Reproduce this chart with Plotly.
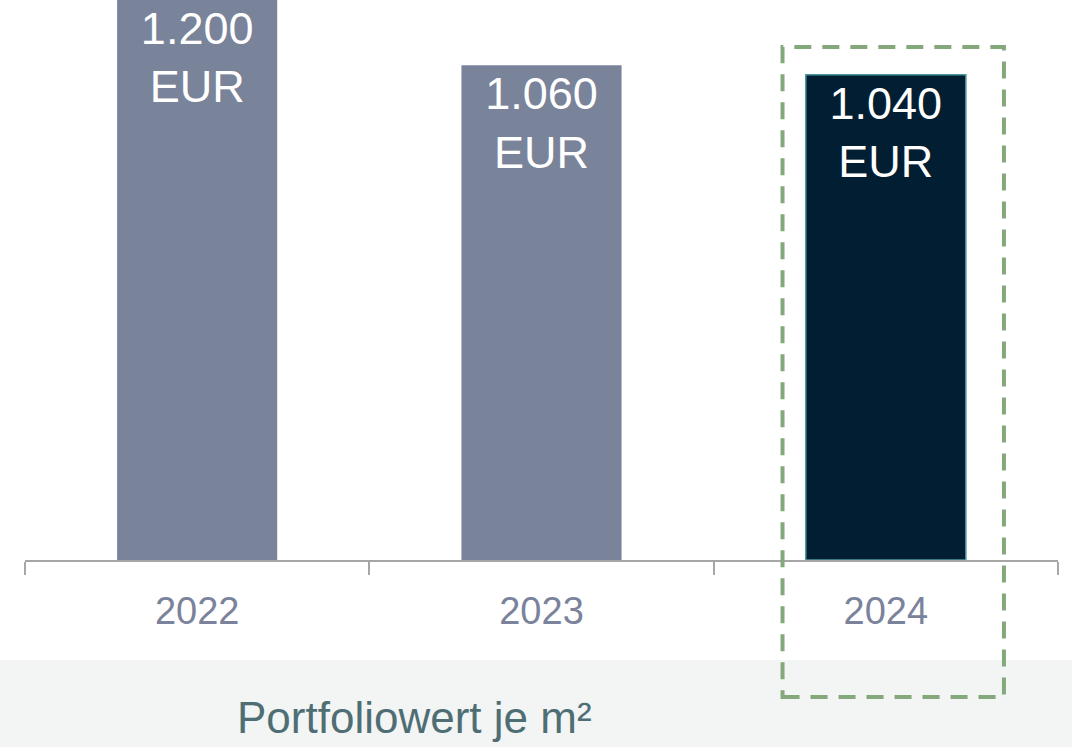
import plotly.graph_objects as go

# ---- data ----
years = ["2022", "2023", "2024"]
values = [1200, 1060, 1040]
value_labels = ["1.200<br>EUR", "1.060<br>EUR", "1.040<br>EUR"]
caption = "Portfoliowert je m²"

bar_colors = ["#79839A", "#79839A", "#021E32"]
bar_line_colors = ["#79839A", "#79839A", "#4E98A0"]
bar_line_widths = [0, 0, 1.5]

FONT = "Liberation Sans Narrow, Arial Narrow, Liberation Sans, Arial, sans-serif"

W, H = 1072, 747
ML, MR, MT, MB = 25, 14, 0, 187
plot_w = W - ML - MR
plot_h = H - MT - MB

fig = go.Figure()
fig.add_trace(go.Bar(
    x=years,
    y=values,
    width=0.465,
    marker=dict(color=bar_colors, line=dict(color=bar_line_colors, width=bar_line_widths)),
    text=value_labels,
    texttemplate="%{text}",
    textposition="inside",
    insidetextanchor="end",
    textangle=0,
    insidetextfont=dict(family=FONT, size=45, color="white"),
    hoverinfo="skip",
))


def px_to_paper_x(px):
    return (px - ML) / plot_w


def px_to_paper_y(py):
    return (H - MB - py) / plot_h


# bottom caption band (full width)
fig.add_shape(type="rect", xref="paper", yref="paper",
              x0=px_to_paper_x(-2), x1=px_to_paper_x(W + 2),
              y0=px_to_paper_y(660), y1=px_to_paper_y(H + 2),
              fillcolor="#F3F5F4", line=dict(width=0), layer="below")

fig.add_annotation(xref="paper", yref="paper",
                   x=px_to_paper_x(414), y=px_to_paper_y(717),
                   text=caption, showarrow=False,
                   font=dict(family=FONT, size=44, color="#4E6E74"),
                   xanchor="center", yanchor="middle")

# dashed highlight box around the last category
fig.add_shape(type="rect", xref="x", yref="paper",
              x0=1.70, x1=2.343,
              y0=px_to_paper_y(697), y1=px_to_paper_y(47),
              line=dict(color="#84A77B", width=4, dash="17px,11px"),
              fillcolor="rgba(0,0,0,0)", layer="above")

fig.update_layout(
    width=W, height=H,
    margin=dict(l=ML, r=MR, t=MT, b=MB, pad=0),
    paper_bgcolor="white", plot_bgcolor="white",
    showlegend=False,
    font=dict(family=FONT),
)
fig.update_xaxes(
    type="category",
    range=[-0.5, 2.5],
    showline=True, linecolor="#A6A6A6", linewidth=2,
    ticks="outside", tickson="boundaries", ticklen=13, tickwidth=2, tickcolor="#A6A6A6",
    tickfont=dict(family=FONT, size=38, color="#7A839B"),
    ticklabelstandoff=16,
    showgrid=False, zeroline=False, fixedrange=True,
)
fig.update_yaxes(
    range=[0, 1200],
    visible=False, showgrid=False, zeroline=False, fixedrange=True,
)

fig.write_html("out.html", config={"displayModeBar": False},
               post_script="document.body.style.margin='0';document.body.style.padding='0';")
